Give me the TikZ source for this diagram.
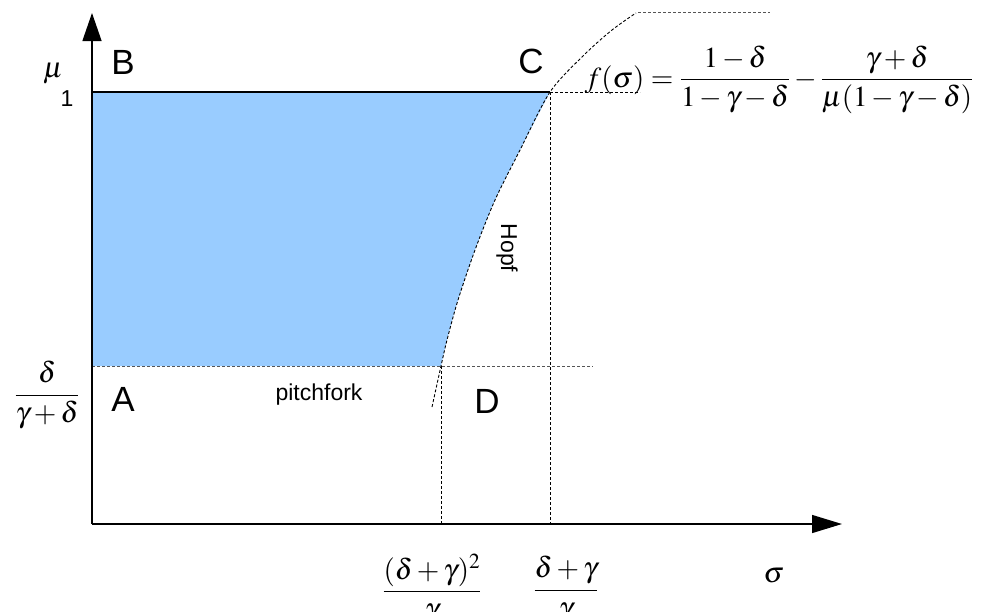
\documentclass[tikz,border=0pt]{standalone}
\usepackage{amsmath}
\usepackage{mathptmx}
\usepackage{fontspec}
\setmainfont{Liberation Sans}
\usetikzlibrary{arrows.meta}
\definecolor{regionblue}{HTML}{99CCFF}
\definecolor{dashgray}{HTML}{555555}
\tikzset{
  axis/.style={line width=1.3pt,-{Triangle[length=28pt,width=19pt]}},
  guide/.style={line width=1pt,dash pattern=on 3pt off 2pt},
  guidegray/.style={line width=1pt,dash pattern=on 3pt off 2pt,draw=dashgray},
  corner/.style={font=\fontsize{35}{40}\selectfont,inner sep=0pt},
  smalllab/.style={font=\fontsize{23}{27}\selectfont,inner sep=0pt},
  mathlab/.style={font=\fontsize{29}{33}\selectfont,inner sep=0pt}
}
\begin{document}
\begin{tikzpicture}[x=1pt,y=-1pt]
\useasboundingbox (0,0) rectangle (981,611);
% coordinates
\coordinate (O) at (92,524);
\coordinate (B1) at (92,92);
\coordinate (C1) at (550,92);
\coordinate (A1) at (92,366);
\coordinate (D1) at (441,366);
\coordinate (Xtip) at (842,524);
\coordinate (Ytip) at (92,13);
% shaded region
\fill[regionblue] (B1) -- (C1)
  -- plot[smooth] coordinates {(550,92) (520,150) (495,200) (475,250) (458,300) (447,340) (441,366)}
  -- (A1) -- cycle;
% curve (Hopf)
\draw[guide,line width=0.9pt] plot[smooth] coordinates {(432,407) (441,366) (447,340) (458,300) (475,250) (495,200) (520,150) (550,92) (584,55) (612,30) (636,13)};
\draw[guidegray,line width=0.8pt] (638,12) -- (770,12);
% guide lines
\draw[guidegray] (A1) -- (593,366);
\draw[guide] (C1) -- (640,92);
\draw[guide] (D1) -- (441,524);
\draw[guide] (C1) -- (550,524);
% top boundary
\draw[line width=1.3pt] (B1) -- (C1);
% axes
\draw[axis] (O) -- (Ytip);
\draw[axis,-{Triangle[length=30pt,width=18pt]}] (O) -- (Xtip);
% labels
\node[corner] (B) at (123,62) {B};
\node[corner] (C) at (531,61) {C};
\node[corner] (A) at (123,399) {A};
\node[corner] (D) at (487,401) {D};
\node[mathlab] (mu) at (53,74) {$\mu$};
\node[smalllab] (one) at (67,99) {1};
\node[smalllab] (pf) at (319,395) {pitchfork};
\node[smalllab,rotate=-90] (hopf) at (507,248) {Hopf};
\node[mathlab] (lowmu) at (47,395) {$\dfrac{\delta}{\gamma+\delta}$};
\node[mathlab] (sig1) at (432,590) {$\dfrac{(\delta+\gamma)^2}{\gamma}$};
\node[mathlab] (sig2) at (566,590) {$\dfrac{\delta+\gamma}{\gamma}$};
\node[mathlab] (sigma) at (774,576) {$\sigma$};
\node[mathlab] (f) at (779,80) {$f(\sigma)=\dfrac{1-\delta}{1-\gamma-\delta}-\dfrac{\gamma+\delta}{\mu(1-\gamma-\delta)}$};
\end{tikzpicture}
\end{document}
